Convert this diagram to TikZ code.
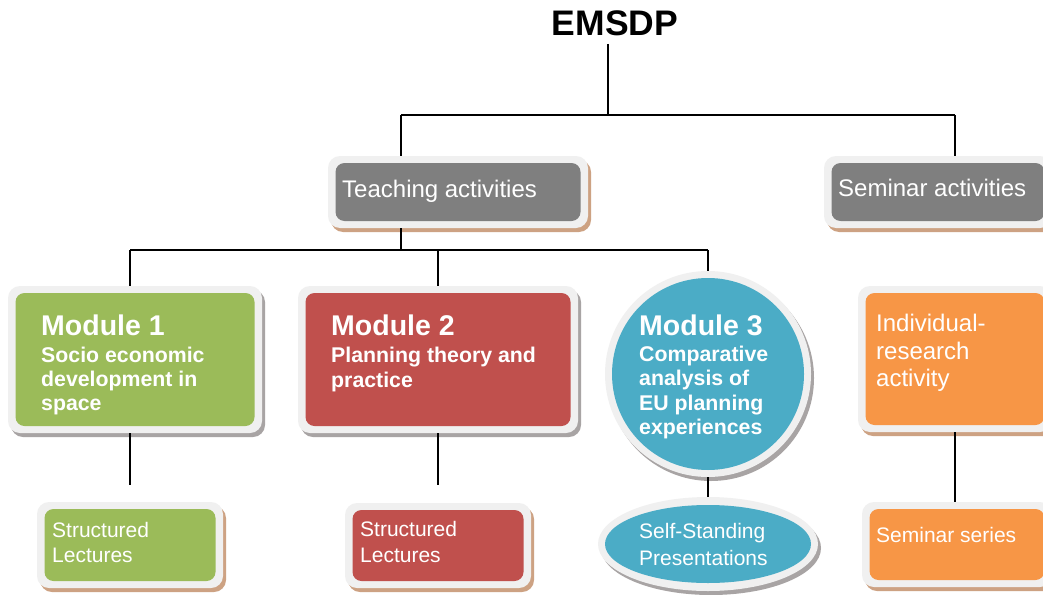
\documentclass[tikz,border=0pt]{standalone}
\usepackage{fontspec}
\setmainfont{Liberation Sans}
\usetikzlibrary{shapes.geometric}
\definecolor{framec}{HTML}{F0F0F0}
\definecolor{greyc}{HTML}{7F7F7F}
\definecolor{greenc}{HTML}{9BBB59}
\definecolor{redc}{HTML}{C0504D}
\definecolor{tealc}{HTML}{4BACC6}
\definecolor{orangec}{HTML}{F79646}
\definecolor{tanc}{HTML}{CDA283}
\definecolor{shgrey}{HTML}{A8A4A4}
\tikzset{
  framebox/.style={fill=framec, rounded corners=12pt, draw=none, inner sep=0pt, outer sep=0pt},
  conn/.style={draw=black, line width=1.3pt},
  lbl/.style={anchor=base west, text=white, inner sep=0pt},
  big/.style={font=\fontsize{24}{28}\selectfont},
  mid/.style={font=\fontsize{21}{25}\selectfont},
  modt/.style={font=\fontsize{28.5}{30}\selectfont\bfseries},
  mods/.style={font=\fontsize{21.3}{25}\selectfont\bfseries},
}
\newcommand\rbox[7]{%
  \fill[#7, rounded corners=12pt] (#2+3,#3+4) rectangle (#4+3,#5+4);
  \node[framebox, minimum width={#4-#2}, minimum height={#5-#3}] (#1) at ({(#2+#4)/2},{(#3+#5)/2}) {};
  \fill[#6, rounded corners=9pt] (#2+7.5,#3+7) rectangle (#4-7.5,#5-7);
}
\begin{document}
\begin{tikzpicture}[x=1pt,y=-1pt]
\clip (0,0) rectangle (1043,594);
\fill[white] (0,0) rectangle (1043,594);

% title
\node[anchor=base, inner sep=0pt, font=\fontsize{35.5}{38}\selectfont\bfseries] (title) at (615,36) {EMSDP};

% junction coordinates
\coordinate (j0) at (608,115);
\coordinate (jt) at (401,115);
\coordinate (js) at (955,115);
\coordinate (jm) at (401,250);
\coordinate (jm1) at (130,250);
\coordinate (jm2) at (438,250);
\coordinate (jm3) at (708,250);
\coordinate (e1) at (130,485);
\coordinate (e2) at (438,485);

% connectors (drawn first, under boxes)
\draw[conn] (608,44) -- (j0);
\draw[conn] (jt) -- (js);

% level 1
\rbox{ta}{328}{156}{588}{228}{greyc}{tanc}
\rbox{sa}{824}{156}{1052}{228}{greyc}{tanc}
\draw[conn] (jt) -- (jt |- ta.north);
\draw[conn] (js) -- (js |- sa.north);
\node[lbl, big] (tat) at (342,197) {Teaching activities};
\node[lbl, big] (sat) at (838,196) {Seminar activities};

% level 2 boxes
\rbox{m1}{8}{286}{262}{433}{greenc}{shgrey}
\rbox{m2}{298}{286}{578}{433}{redc}{shgrey}
\fill[shgrey] (711,378) circle[radius=103pt];
\node[circle, fill=framec, minimum size=206pt, inner sep=0pt, outer sep=0pt] (m3) at (708,374) {};
\fill[tealc] (708,374) circle[radius=96pt];
\rbox{ir}{858}{286}{1052}{432}{orangec}{tanc}

\draw[conn] (jm |- ta.south) -- (jm);
\draw[conn] (jm1) -- (jm3);
\draw[conn] (jm1) -- (jm1 |- m1.north);
\draw[conn] (jm2) -- (jm2 |- m2.north);
\draw[conn] (jm3) -- (m3.north);

% level 3 boxes
\rbox{s1}{37}{502}{223}{588}{greenc}{tanc}
\rbox{s2}{345}{503}{531}{588}{redc}{tanc}
\fill[shgrey] (711,548) ellipse[x radius=110pt, y radius=47pt];
\node[ellipse, fill=framec, minimum width=220pt, minimum height=94pt, inner sep=0pt, outer sep=0pt] (sp) at (708,544) {};
\fill[tealc] (708,544) ellipse[x radius=103pt, y radius=39pt];
\rbox{ss}{862}{502}{1052}{587}{orangec}{tanc}

\draw[conn] (e1 |- m1.south) -- (e1);
\draw[conn] (e2 |- m2.south) -- (e2);
\draw[conn] (m3.south) -- (sp.north);
\draw[conn] (955,432) -- (955,502);

% texts
\node[lbl, modt] (m1a) at (41,335) {Module 1};
\node[lbl, mods] (m1b) at (41,362) {Socio economic};
\node[lbl, mods] (m1c) at (41,386) {development in};
\node[lbl, mods] (m1d) at (41,410) {space};

\node[lbl, modt] (m2a) at (331,335) {Module 2};
\node[lbl, mods] (m2b) at (331,362) {Planning theory and};
\node[lbl, mods] (m2c) at (331,387) {practice};

\node[lbl, modt] (m3a) at (639,335) {Module 3};
\node[lbl, mods] (m3b) at (639,361) {Comparative};
\node[lbl, mods] (m3c) at (639,385) {analysis of};
\node[lbl, mods] (m3d) at (639,410) {EU planning};
\node[lbl, mods] (m3e) at (639,434) {experiences};

\node[lbl, big] (ira) at (876,331) {Individual-};
\node[lbl, big] (irb) at (876,359) {research};
\node[lbl, big] (irc) at (876,386) {activity};

\node[lbl, mid] (s1a) at (52,537) {Structured};
\node[lbl, mid] (s1b) at (52,562) {Lectures};
\node[lbl, mid] (s2a) at (360,536) {Structured};
\node[lbl, mid] (s2b) at (360,562) {Lectures};
\node[lbl, mid] (spa) at (639,538) {Self-Standing};
\node[lbl, mid] (spb) at (639,565) {Presentations};
\node[lbl, mid] (ssa) at (876,542) {Seminar series};
\end{tikzpicture}
\end{document}
